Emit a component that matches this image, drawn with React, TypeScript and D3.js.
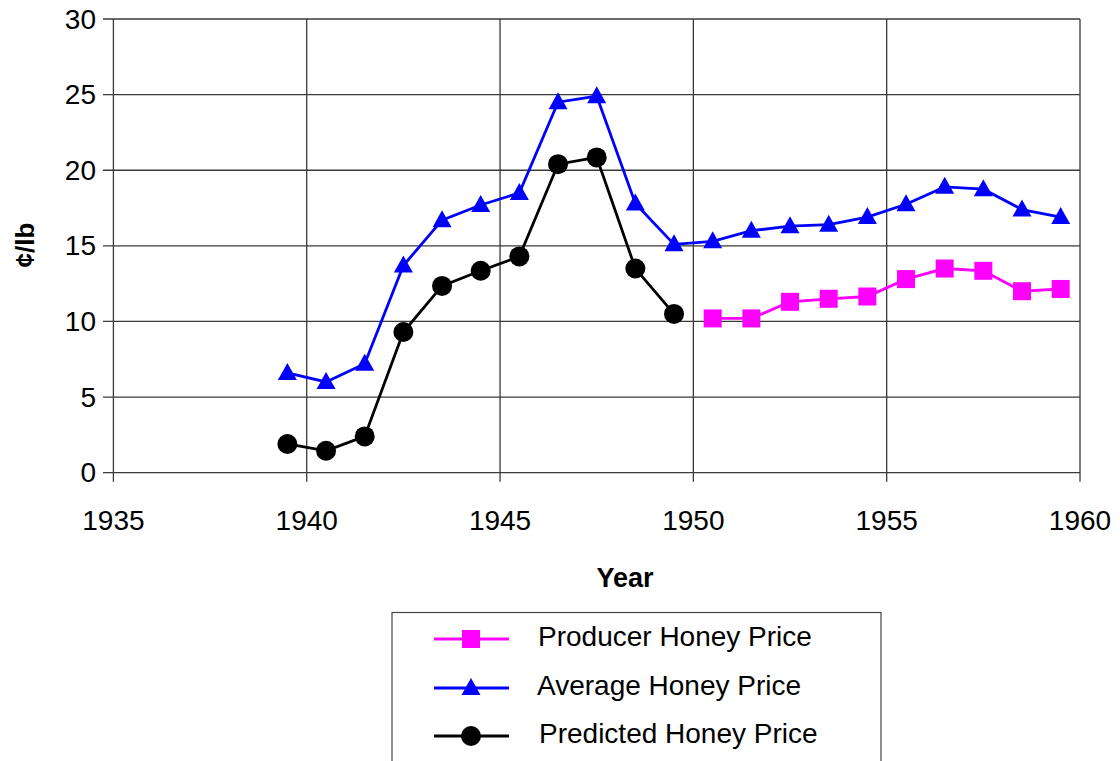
import React from "react";
import * as d3 from "d3";

const avgYears = [1939.5, 1940.5, 1941.5, 1942.5, 1943.5, 1944.5, 1945.5, 1946.5, 1947.5, 1948.5, 1949.5, 1950.5, 1951.5, 1952.5, 1953.5, 1954.5, 1955.5, 1956.5, 1957.5, 1958.5, 1959.5];
const avgValues = [6.6, 6.0, 7.2, 13.7, 16.7, 17.7, 18.5, 24.5, 24.9, 17.8, 15.1, 15.3, 16.0, 16.3, 16.4, 16.9, 17.75, 18.9, 18.75, 17.4, 16.9];

const predYears = [1939.5, 1940.5, 1941.5, 1942.5, 1943.5, 1944.5, 1945.5, 1946.5, 1947.5, 1948.5, 1949.5];
const predValues = [1.9, 1.45, 2.4, 9.3, 12.35, 13.35, 14.3, 20.4, 20.85, 13.5, 10.5];

const prodYears = [1950.5, 1951.5, 1952.5, 1953.5, 1954.5, 1955.5, 1956.5, 1957.5, 1958.5, 1959.5];
const prodValues = [10.2, 10.2, 11.3, 11.5, 11.65, 12.8, 13.5, 13.35, 12.0, 12.15];

const xTicks = [1935, 1940, 1945, 1950, 1955, 1960];
const yTicks = [0, 5, 10, 15, 20, 25, 30];

const legendLabels = ["Producer Honey Price", "Average Honey Price", "Predicted Honey Price"];

const FONT = "'Liberation Sans', Arial, Helvetica, sans-serif";

export default function App() {
  const x = d3.scaleLinear().domain([1935, 1960]).range([113.4, 1080]);
  const y = d3.scaleLinear().domain([0, 30]).range([472.7, 19]);
  const line = d3.line<[number, number]>().x((d) => x(d[0])).y((d) => y(d[1]));

  const avg = avgYears.map((t, i) => [t, avgValues[i]] as [number, number]);
  const pred = predYears.map((t, i) => [t, predValues[i]] as [number, number]);
  const prod = prodYears.map((t, i) => [t, prodValues[i]] as [number, number]);

  const tri = (cx: number, cy: number, key: string | number) => (
    <path key={key} d={`M${cx},${cy - 10}L${cx + 9.5},${cy + 7}L${cx - 9.5},${cy + 7}Z`} fill="#0000FF" />
  );
  const sq = (cx: number, cy: number, key: string | number) => (
    <rect key={key} x={cx - 9} y={cy - 9} width={18} height={18} fill="#FF00FF" />
  );
  const circ = (cx: number, cy: number, key: string | number) => (
    <circle key={key} cx={cx} cy={cy} r={10} fill="#000" />
  );

  const legendRows = [
    { label: legendLabels[0], color: "#FF00FF", mk: sq, y: 639, tx: 538 },
    { label: legendLabels[1], color: "#0000FF", mk: tri, y: 688, tx: 537 },
    { label: legendLabels[2], color: "#000000", mk: circ, y: 736, tx: 539 },
  ];

  return (
    <svg width={1120} height={761} style={{ position: "absolute", left: 0, top: 0, background: "#fff" }} fontFamily={FONT}>
      <rect x={0} y={0} width={1120} height={761} fill="#fff" />
      {/* grid */}
      {yTicks.map((v) => (
        <line key={"gy" + v} x1={103} x2={x(1960)} y1={y(v)} y2={y(v)} stroke="#3a3a3a" strokeWidth={1.3} />
      ))}
      {xTicks.map((v) => (
        <line key={"gx" + v} x1={x(v)} x2={x(v)} y1={y(30)} y2={y(0) + 9} stroke="#3a3a3a" strokeWidth={1.3} />
      ))}
      {/* y tick labels */}
      {yTicks.map((v) => (
        <text key={"ty" + v} x={96} y={y(v) + 9.5} textAnchor="end" fontSize={28} fill="#000">
          {v}
        </text>
      ))}
      {xTicks.map((v) => (
        <text key={"tx" + v} x={x(v)} y={530} textAnchor="middle" fontSize={28} fill="#000">
          {v}
        </text>
      ))}
      <text x={625} y={587} textAnchor="middle" fontSize={27} fontWeight="bold">Year</text>
      <text transform="translate(34,245) rotate(-90)" textAnchor="middle" fontSize={26} fontWeight="bold">¢/lb</text>

      {/* series */}
      <path d={line(avg) || ""} fill="none" stroke="#0000FF" strokeWidth={2.8} />
      <path d={line(pred) || ""} fill="none" stroke="#000" strokeWidth={2.8} />
      <path d={line(prod) || ""} fill="none" stroke="#FF00FF" strokeWidth={2.8} />
      {avg.map((d, i) => tri(x(d[0]), y(d[1]), "a" + i))}
      {pred.map((d, i) => circ(x(d[0]), y(d[1]), "p" + i))}
      {prod.map((d, i) => sq(x(d[0]), y(d[1]), "q" + i))}

      {/* legend */}
      <rect x={392} y={612.5} width={489} height={160} fill="#fff" stroke="#444" strokeWidth={1.2} />
      {legendRows.map((r, i) => (
        <g key={"lg" + i}>
          <line x1={434} x2={509} y1={r.y} y2={r.y} stroke={r.color} strokeWidth={2.8} />
          {r.mk(471, r.y, "lm" + i)}
          <text x={r.tx} y={r.y + 6.5} fontSize={28} fill="#000">{r.label}</text>
        </g>
      ))}
    </svg>
  );
}
